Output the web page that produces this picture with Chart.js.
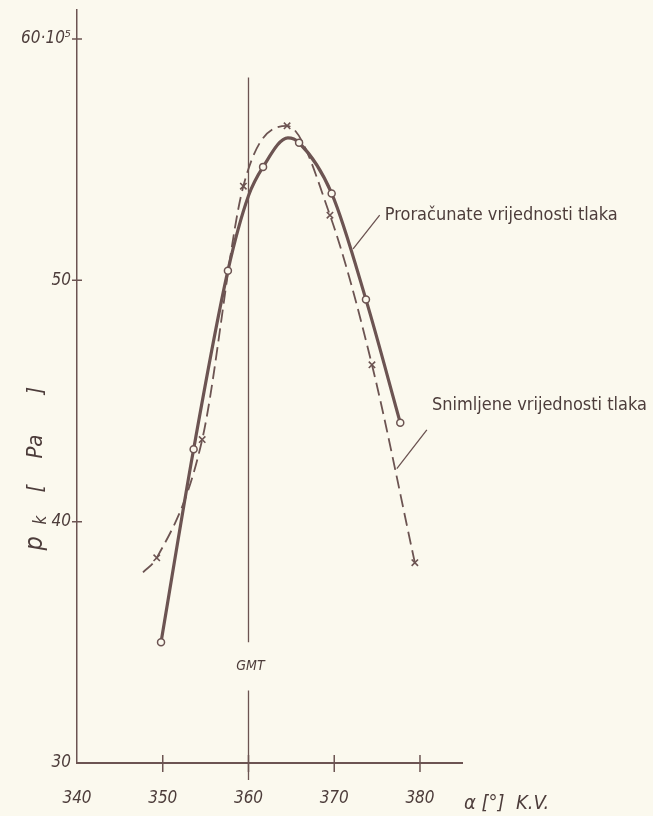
<!DOCTYPE html>
<html>
<head>
<meta charset="utf-8">
<script src="https://cdn.jsdelivr.net/npm/chart.js@4.4.1/dist/chart.umd.min.js"></script>
<style>
  html, body { margin: 0; padding: 0; background: #fbf9ee; }
  canvas { display: block; }
</style>
</head>
<body>
<canvas id="pressureChart" width="653" height="816"></canvas>
<script>
// crank angle [deg K.V.] and pressure [10^5 Pa]
const calcAngle    = [349.8, 353.6, 357.6, 360.0, 361.7, 364.6, 365.9, 369.7, 373.7, 377.7];
const calcPressure = [35.0, 43.0, 50.4, 53.5, 54.7, 55.9, 55.7, 53.6, 49.2, 44.1];
const calcMarked   = [1, 1, 1, 0, 1, 0, 1, 1, 1, 1];

const measAngle    = [347.7, 349.3, 354.6, 359.4, 364.5, 369.5, 374.4, 379.4];
const measPressure = [37.9, 38.5, 43.4, 53.9, 56.4, 52.7, 46.5, 38.3];
const measMarked   = [0, 1, 1, 1, 1, 1, 1, 1];

const xTicks = [340, 350, 360, 370, 380];
const yTicks = [30, 40, 50, 60];
const yTickLabels = ['30', '40', '50', '60·10⁵'];

const paper = '#fbf9ee';
const ink = '#6c5452';
const textInk = '#4d3d3b';
const cond = '"DejaVu Sans Condensed", "DejaVu Sans", sans-serif';

const toPoints = (xs, ys) => xs.map((x, i) => ({ x: x, y: ys[i] }));

const decor = {
    id: 'decor',
    beforeDraw(chart) {
        const ctx = chart.ctx;
        ctx.save();
        ctx.fillStyle = paper;
        ctx.fillRect(0, 0, chart.width, chart.height);
        ctx.restore();
    },
    beforeDatasetsDraw(chart) {
        const { ctx, scales } = chart;
        const x = scales.x, y = scales.y;
        const gx = x.getPixelForValue(360);
        ctx.save();
        ctx.strokeStyle = ink;
        ctx.lineWidth = 1.3;
        // GMT line with a gap for its label
        ctx.beginPath();
        ctx.moveTo(gx, y.getPixelForValue(58.4));
        ctx.lineTo(gx, y.getPixelForValue(35.0));
        ctx.moveTo(gx, y.getPixelForValue(33.0));
        ctx.lineTo(gx, y.bottom + 17);
        ctx.stroke();
        ctx.fillStyle = textInk;
        ctx.font = 'oblique 14px ' + cond;
        ctx.textAlign = 'center';
        ctx.textBaseline = 'middle';
        ctx.fillText('GMT', gx + 2, y.getPixelForValue(34.0));
        ctx.restore();
    },
    afterDraw(chart) {
        const { ctx, scales } = chart;
        const x = scales.x, y = scales.y;
        const px = v => x.getPixelForValue(v);
        const py = v => y.getPixelForValue(v);
        ctx.save();
        ctx.strokeStyle = ink;
        ctx.fillStyle = textInk;
        ctx.lineWidth = 1.5;

        // tick marks crossing the axes
        ctx.beginPath();
        xTicks.slice(1).forEach(v => {
            ctx.moveTo(px(v), y.bottom - 8);
            ctx.lineTo(px(v), y.bottom + 9);
        });
        yTicks.slice(1).forEach(v => {
            ctx.moveTo(x.left - 5, py(v));
            ctx.lineTo(x.left + 5, py(v));
        });
        ctx.stroke();

        // leader lines
        ctx.lineWidth = 1.3;
        ctx.beginPath();
        ctx.moveTo(px(375.3), py(52.7));
        ctx.lineTo(px(372.2), py(51.3));
        ctx.moveTo(px(380.8), py(43.8));
        ctx.lineTo(px(377.3), py(42.2));
        ctx.stroke();

        ctx.font = '18px ' + cond;
        ctx.textAlign = 'left';
        ctx.textBaseline = 'middle';
        ctx.fillText('Proračunate vrijednosti tlaka', px(375.9), py(52.7));
        ctx.fillText('Snimljene vrijednosti tlaka', px(381.4), py(44.8));

        // x axis title
        ctx.font = 'oblique 20px ' + cond;
        ctx.textBaseline = 'alphabetic';
        ctx.fillText('α [°]  K.V.', x.right + 2, y.bottom + 46);

        // y axis title, rotated, reading upwards
        ctx.translate(42, py(38.8));
        ctx.rotate(-Math.PI / 2);
        ctx.font = 'oblique 25px ' + cond;
        ctx.fillText('p', 0, 0);
        ctx.font = 'oblique 17px ' + cond;
        ctx.fillText('k', 26, 4);
        ctx.font = 'oblique 22px ' + cond;
        ctx.fillText('[', 58, 0);
        ctx.fillText('Pa', 92, 0);
        ctx.fillText(']', 156, 0);
        ctx.restore();
    }
};

const ctx = document.getElementById('pressureChart').getContext('2d');
const pressureChart = new Chart(ctx, {
    type: 'line',
    data: {
        datasets: [
            {
                label: 'Proračunate vrijednosti tlaka',
                data: toPoints(calcAngle, calcPressure),
                borderColor: ink,
                borderWidth: 3.2,
                cubicInterpolationMode: 'monotone',
                pointStyle: 'circle',
                pointRadius: calcMarked.map(m => m ? 3.5 : 0),
                pointBorderWidth: 1.5,
                pointBorderColor: ink,
                pointBackgroundColor: paper
            },
            {
                label: 'Snimljene vrijednosti tlaka',
                data: toPoints(measAngle, measPressure),
                borderColor: ink,
                borderWidth: 1.8,
                borderDash: [13, 6],
                cubicInterpolationMode: 'monotone',
                pointStyle: 'crossRot',
                pointRadius: measMarked.map(m => m ? 4.5 : 0),
                pointBorderWidth: 1.6,
                pointBorderColor: ink
            }
        ]
    },
    options: {
        responsive: false,
        animation: false,
        layout: { padding: { left: 0, top: 10, right: 191, bottom: 0 } },
        plugins: {
            legend: { display: false },
            tooltip: { enabled: false }
        },
        scales: {
            x: {
                type: 'linear',
                min: 340,
                max: 384.9,
                afterFit: s => { s.height = 53; },
                afterBuildTicks: s => { s.ticks = xTicks.map(v => ({ value: v })); },
                grid: { display: false, drawTicks: false },
                border: { display: true, color: ink, width: 2 },
                ticks: {
                    padding: 25,
                    color: textInk,
                    font: { family: cond, style: 'oblique', size: 17 },
                    maxRotation: 0
                }
            },
            y: {
                type: 'linear',
                min: 30,
                max: 61.2,
                afterFit: s => { s.width = 77; s.paddingTop = 0; s.paddingBottom = 0; },
                afterBuildTicks: s => { s.ticks = yTicks.map(v => ({ value: v })); },
                grid: { display: false, drawTicks: false },
                border: { display: true, color: ink, width: 1.5 },
                ticks: {
                    padding: 6,
                    color: textInk,
                    font: { family: cond, style: 'oblique', size: 17 },
                    callback: v => yTickLabels[yTicks.indexOf(v)]
                }
            }
        }
    },
    plugins: [decor]
});
</script>
</body>
</html>
